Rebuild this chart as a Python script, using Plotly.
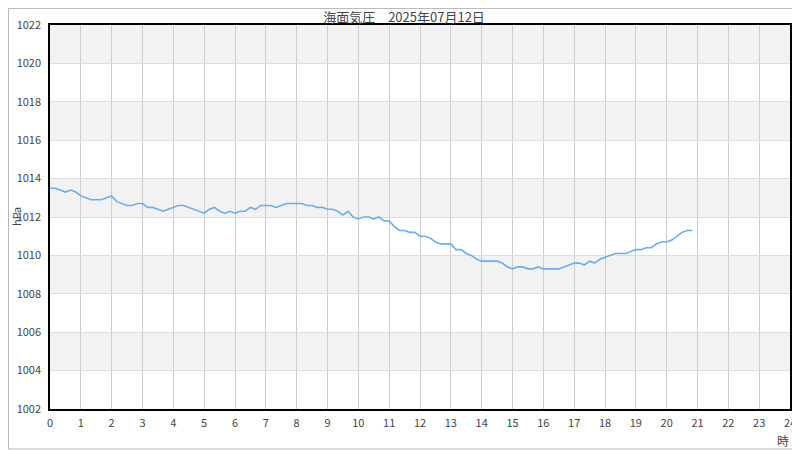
import plotly.graph_objects as go

hours = [i / 6 for i in range(126)]
pressure = [
    1013.5, 1013.5, 1013.4, 1013.3, 1013.4, 1013.3,
    1013.1, 1013.0, 1012.9, 1012.9, 1012.9, 1013.0,
    1013.1, 1012.8, 1012.7, 1012.6, 1012.6, 1012.7,
    1012.7, 1012.5, 1012.5, 1012.4, 1012.3, 1012.4,
    1012.5, 1012.6, 1012.6, 1012.5, 1012.4, 1012.3,
    1012.2, 1012.4, 1012.5, 1012.3, 1012.2, 1012.3,
    1012.2, 1012.3, 1012.3, 1012.5, 1012.4, 1012.6,
    1012.6, 1012.6, 1012.5, 1012.6, 1012.7, 1012.7,
    1012.7, 1012.7, 1012.6, 1012.6, 1012.5, 1012.5,
    1012.4, 1012.4, 1012.3, 1012.1, 1012.3, 1012.0,
    1011.9, 1012.0, 1012.0, 1011.9, 1012.0, 1011.8,
    1011.8, 1011.5, 1011.3, 1011.3, 1011.2, 1011.2,
    1011.0, 1011.0, 1010.9, 1010.7, 1010.6, 1010.6,
    1010.6, 1010.3, 1010.3, 1010.1, 1010.0, 1009.8,
    1009.7, 1009.7, 1009.7, 1009.7, 1009.6, 1009.4,
    1009.3, 1009.4, 1009.4, 1009.3, 1009.3, 1009.4,
    1009.3, 1009.3, 1009.3, 1009.3, 1009.4, 1009.5,
    1009.6, 1009.6, 1009.5, 1009.7, 1009.6, 1009.8,
    1009.9, 1010.0, 1010.1, 1010.1, 1010.1, 1010.2,
    1010.3, 1010.3, 1010.4, 1010.4, 1010.6, 1010.7,
    1010.7, 1010.8, 1011.0, 1011.2, 1011.3, 1011.3,
]
x_ticks = list(range(0, 25))
y_ticks = list(range(1002, 1023, 2))
gray_bands = [(1004, 1006), (1008, 1010), (1012, 1014), (1016, 1018), (1020, 1022)]

FONT = "Noto Sans CJK JP"
W, H = 792, 442          # page body has an 8px margin
L, R, T, B = 42, 10, 17, 41
PW, PH = W - L - R, H - T - B

fig = go.Figure()
fig.add_trace(go.Scatter(
    x=hours, y=pressure, mode="lines",
    line=dict(color="#6aaef0", width=1.6),
    hoverinfo="skip", showlegend=False,
))

shapes = []
for lo, hi in gray_bands:
    shapes.append(dict(type="rect", xref="paper", yref="y", x0=0, x1=1, y0=lo, y1=hi,
                       fillcolor="#f2f2f2", line=dict(width=0), layer="below"))
# outer figure border
shapes.append(dict(type="rect", xref="paper", yref="paper",
                   x0=(-L + 0.5) / PW, x1=(PW + R - 1) / PW,
                   y0=(-B + 1) / PH, y1=(PH + T - 0.5) / PH,
                   line=dict(color="#bbbbbb", width=1), fillcolor="rgba(0,0,0,0)"))

fig.update_layout(
    width=W, height=H, autosize=False,
    margin=dict(l=L, r=R, t=T, b=B, autoexpand=False),
    paper_bgcolor="white", plot_bgcolor="white",
    font=dict(family=FONT, size=11, color="#444444"),
    title=dict(text="海面気圧　2025年07月12日", x=0.5, xanchor="center",
               y=1 - 9.5 / H, yanchor="middle",
               font=dict(family=FONT, size=13, color="#444444")),
    shapes=shapes,
    xaxis=dict(range=[0, 24], tickvals=x_ticks, ticktext=[str(v) for v in x_ticks],
               showgrid=True, gridcolor="#cccccc", gridwidth=1,
               showline=True, linecolor="black", linewidth=1.5, mirror=True,
               ticks="", zeroline=False, ticklabelstandoff=3, automargin=False,
               tickfont=dict(size=11, color="#444444")),
    yaxis=dict(range=[1002, 1022], tickvals=y_ticks, ticktext=[str(v) for v in y_ticks],
               showgrid=True, gridcolor="#dddddd", gridwidth=1,
               showline=True, linecolor="black", linewidth=1.5, mirror=True,
               ticks="", zeroline=False, ticklabelstandoff=5, automargin=False,
               tickfont=dict(size=11, color="#444444")),
    annotations=[
        dict(text="時", xref="paper", yref="paper", x=(775 - L) / PW, y=-(432 - T - PH) / PH,
             xanchor="center", yanchor="middle", showarrow=False,
             font=dict(family=FONT, size=12, color="#444444")),
        dict(text="hPa", xref="paper", yref="paper", x=(8 - L) / PW, y=0.5, textangle=-90,
             xanchor="center", yanchor="middle", showarrow=False,
             font=dict(family=FONT, size=11, color="#444444")),
    ],
)

fig.write_html("out.html")
